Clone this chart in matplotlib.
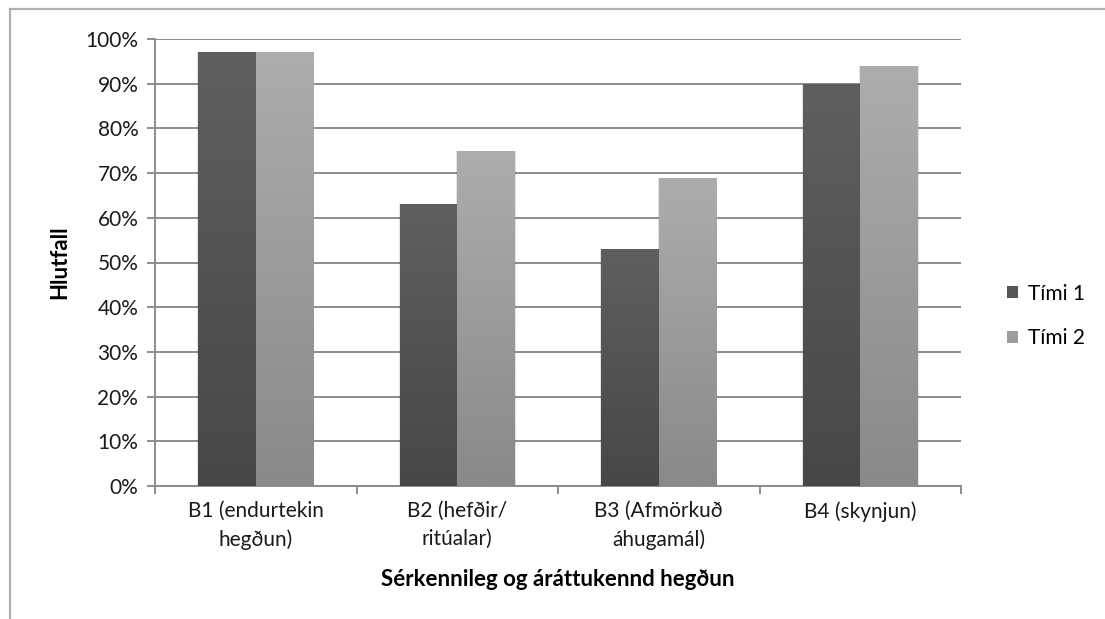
import numpy as np
import matplotlib
matplotlib.use("Agg")
import matplotlib.pyplot as plt
from matplotlib.patches import Rectangle
from matplotlib.colors import LinearSegmentedColormap

plt.rcParams['font.family'] = ['Lato', 'DejaVu Sans']

categories = ["B1 (endurtekin\nhegðun)", "B2 (hefðir/\nritúalar)",
              "B3 (Afmörkuð\náhugamál)", "B4 (skynjun)"]
series_names = ["Tími 1", "Tími 2"]
timi1 = [97, 63, 53, 90]
timi2 = [97, 75, 69, 94]
yticks = [0, 10, 20, 30, 40, 50, 60, 70, 80, 90, 100]
ytick_labels = [f"{v}%" for v in yticks]

# top / bottom shades for each series' vertical gradient
grad_colors = [("#5f5f5f", "#474747"), ("#adadad", "#898989")]
legend_colors = ["#555555", "#9d9d9d"]

W, H = 1105, 619
fig = plt.figure(figsize=(W / 100, H / 100), dpi=100)
fig.patch.set_facecolor("white")

# outer chart frame
fig.add_artist(Rectangle((9.5 / W, -0.1), 1.2, 1.1 - 8.5 / H,
                         transform=fig.transFigure, fill=False,
                         edgecolor="#b0b0b0", linewidth=1.6))

ax = fig.add_axes([155 / W, 1 - 486 / H, (961 - 155) / W, (486 - 39) / H])

x = np.arange(len(categories))
width = 1 / 3.5
grid_c = "#8c8c8c"

for i, (vals, (ctop, cbot)) in enumerate(zip([timi1, timi2], grad_colors)):
    offs = (i - 0.5) * width
    bars = ax.bar(x + offs, vals, width, color=legend_colors[i],
                  edgecolor="none", zorder=3, label=series_names[i])
    cmap = LinearSegmentedColormap.from_list(f"g{i}", [cbot, ctop])
    grad = np.linspace(0, 1, 256).reshape(-1, 1)
    for b in bars:
        bx, by = b.get_x(), b.get_y()
        bw, bh = b.get_width(), b.get_height()
        # soft shadow along the bar sides
        ax.add_patch(Rectangle((bx - 0.005, by), bw + 0.01, bh,
                               facecolor="#000000", alpha=0.10,
                               edgecolor="none", zorder=2.9))
        im = ax.imshow(grad, extent=[bx, bx + bw, by, by + bh], origin="lower",
                       cmap=cmap, aspect="auto", zorder=3.1,
                       interpolation="bilinear")
        im.set_clip_path(b)

ax.set_xlim(-0.5, len(categories) - 0.5)
ax.set_ylim(0, 100)

ax.set_yticks(yticks)
ax.set_yticklabels(ytick_labels)
ax.yaxis.grid(True, color=grid_c, linewidth=1.4, zorder=1)
ax.set_axisbelow(True)

ax.set_xticks(x)
ax.set_xticklabels(categories, fontsize=15, color="#1a1a1a", linespacing=1.5)
ax.tick_params(axis="x", length=0, pad=11)
ax.set_xticks(np.arange(len(categories) + 1) - 0.5, minor=True)
ax.tick_params(axis="x", which="minor", length=6, width=1.4, color=grid_c,
               direction="out")
ax.tick_params(axis="y", length=6, width=1.4, color=grid_c, direction="out",
               labelsize=15, labelcolor="#1a1a1a", pad=6)

for side in ("top", "right"):
    ax.spines[side].set_visible(False)
for side in ("left", "bottom"):
    ax.spines[side].set_color(grid_c)
    ax.spines[side].set_linewidth(1.4)

ax.set_ylabel("Hlutfall", fontsize=16, fontweight="bold", va="center")
ax.yaxis.set_label_coords((60 - 155) / 806, 0.5)
ax.set_xlabel("Sérkennileg og áráttukennd hegðun", fontsize=16,
              fontweight="bold", va="center")
ax.xaxis.set_label_coords(0.5, (486 - 579) / 447)

handles = [Rectangle((0, 0), 1, 1, facecolor=c, edgecolor="none")
           for c in legend_colors]
fig.legend(handles, series_names, loc="center left",
           bbox_to_anchor=(988 / W, 1 - 316 / H), frameon=False,
           fontsize=15, handlelength=0.55, handleheight=0.55,
           handletextpad=0.45, labelspacing=1.2)

fig.savefig("out.png", dpi=100, facecolor="white")
